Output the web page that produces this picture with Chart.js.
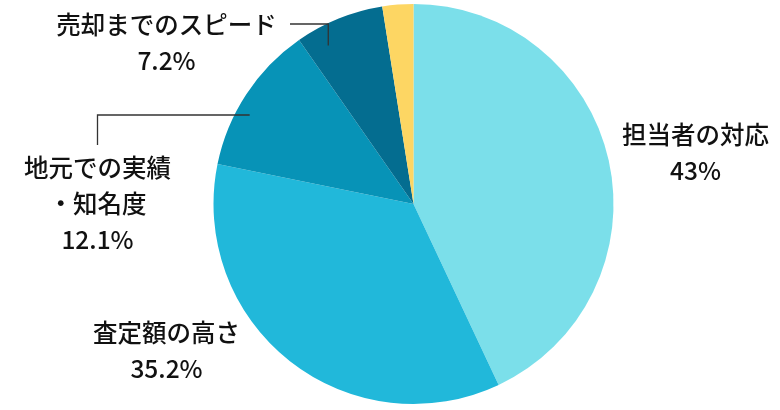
<!DOCTYPE html>
<html>
<head>
<meta charset="utf-8">
<script src="https://cdn.jsdelivr.net/npm/chart.js@4"></script>
<style>
  html, body { margin: 0; padding: 0; background: #fff; }
  canvas { display: block; }
</style>
</head>
<body>
<canvas id="pieChart" width="780" height="410"></canvas>
<script>
const categories = ['担当者の対応', '査定額の高さ', '地元での実績・知名度', '売却までのスピード', 'その他'];
const values = [43, 35.2, 12.1, 7.2, 2.5];
const valueLabels = ['43%', '35.2%', '12.1%', '7.2%', ''];
const colors = ['#7BDFEA', '#21B8DA', '#0793B7', '#046D90', '#FDD663'];

// label text lines and where they sit (offsets from pie centre)
const labelLines = [
    [categories[0], valueLabels[0]],
    [categories[1], valueLabels[1]],
    ['地元での実績', '・知名度', valueLabels[2]],
    [categories[3], valueLabels[3]],
    []
];
const labelPos = [
    { dx: 282, dy: -69 },
    { dx: -247, dy: 129 },
    { dx: -316, dy: -36 },
    { dx: -247, dy: -179 },
    null
];

const labelPlugin = {
    id: 'pieLabels',
    afterDatasetsDraw(chart) {
        const ctx = chart.ctx;
        const arcs = chart.getDatasetMeta(0).data;
        const cx = arcs[0].x, cy = arcs[0].y, r = arcs[0].outerRadius;
        ctx.save();
        ctx.fillStyle = '#111';
        ctx.font = '500 24.5px "Noto Sans CJK JP", "Noto Sans", sans-serif';
        ctx.textAlign = 'center';
        ctx.textBaseline = 'middle';
        labelLines.forEach((lines, i) => {
            const p = labelPos[i];
            if (!p) return;
            const lh = 36;
            lines.forEach((t, k) => {
                ctx.fillText(t, cx + p.dx, cy + p.dy + k * lh);
            });
        });

        // leader lines
        ctx.strokeStyle = '#333';
        ctx.lineWidth = 1.3;
        const inner = (i, frac, shift) => {
            const a = arcs[i];
            const mid = (a.startAngle + a.endAngle) / 2 + (shift || 0);
            return { x: cx + Math.cos(mid) * r * frac, y: cy + Math.sin(mid) * r * frac };
        };
        // 地元での実績・知名度
        let e = inner(2, 0.98, 0);
        ctx.beginPath();
        ctx.moveTo(cx - 316, cy - 59);
        ctx.lineTo(cx - 316, cy - 89);
        ctx.lineTo(e.x, cy - 89);
        ctx.stroke();
        // 売却までのスピード
        e = inner(3, 0.9, -0.11);
        ctx.beginPath();
        ctx.moveTo(cx - 123.5, cy - 180);
        ctx.lineTo(e.x, cy - 180);
        ctx.lineTo(e.x, e.y);
        ctx.stroke();
        ctx.restore();
    }
};

new Chart(document.getElementById('pieChart'), {
    type: 'pie',
    data: {
        labels: categories,
        datasets: [{
            data: values,
            backgroundColor: colors,
            borderWidth: 0
        }]
    },
    options: {
        responsive: false,
        animation: false,
        layout: { padding: { left: 213, right: 166, top: 4, bottom: 6 } },
        plugins: {
            legend: { display: false },
            tooltip: { enabled: false }
        }
    },
    plugins: [labelPlugin]
});
</script>
</body>
</html>
